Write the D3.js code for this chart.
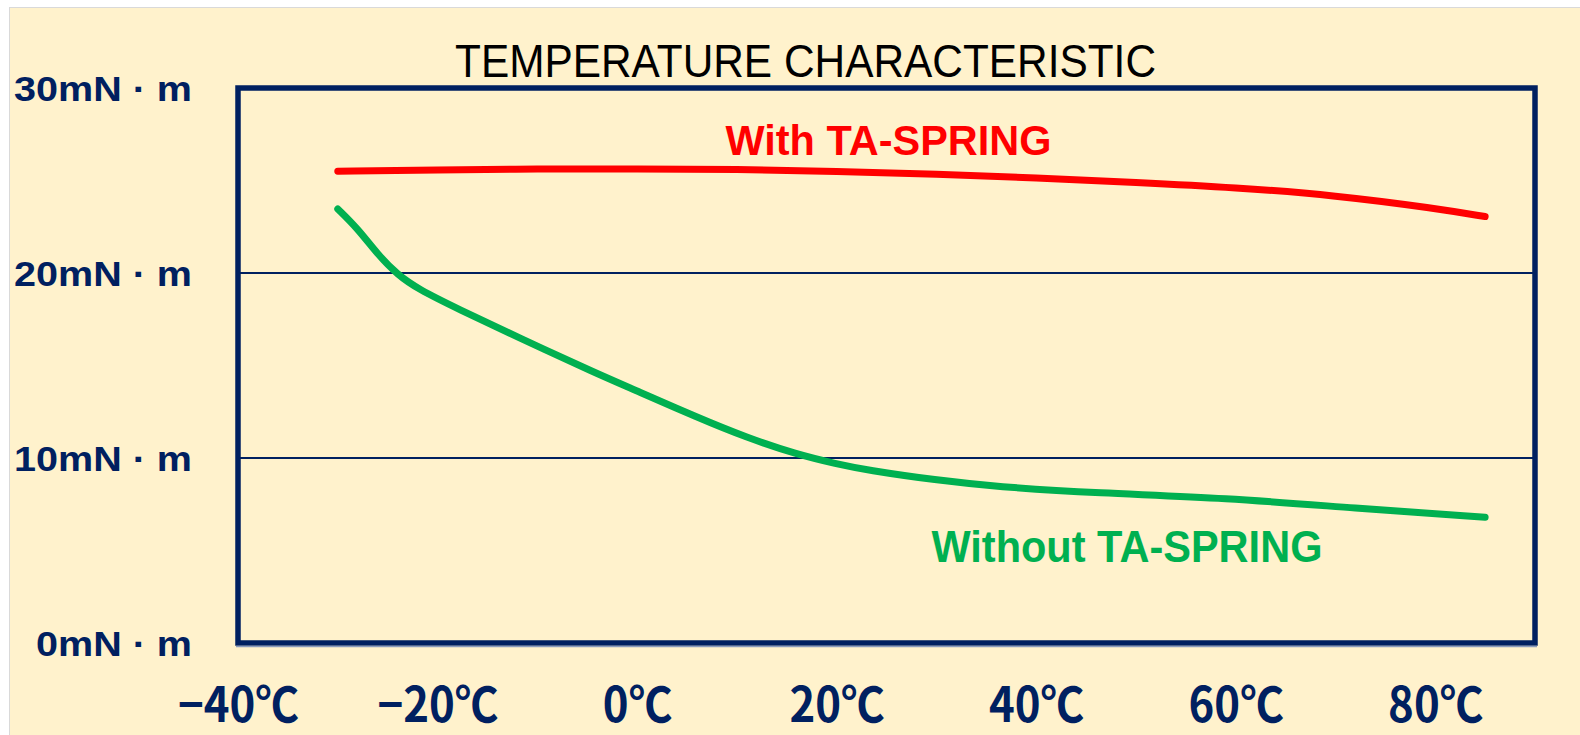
<!DOCTYPE html>
<html>
<head>
<meta charset="utf-8">
<script src="https://cdn.jsdelivr.net/npm/d3@7"></script>
<style>
  html, body { margin: 0; padding: 0; background: #fff; }
  svg { display: block; }
</style>
</head>
<body>
<svg id="chart" width="1580" height="735"></svg>
<script>
// temperature (°C) samples for each curve
const withTemps = [-30, -20, -10, 0, 10, 20, 30, 40, 50, 60, 70, 80, 85]
const withTorque = [25.5, 25.58, 25.62, 25.63, 25.6, 25.5, 25.35, 25.15, 24.9, 24.62, 24.2, 23.5, 23.05]

const withoutTemps = [-30, -28, -26, -24, -22, -18, -12, -4, 0, 6, 11, 16, 20, 23, 30, 36, 46, 59, 72, 85]
const withoutTorque = [23.46, 22.4, 21.0, 19.9, 19.15, 18.07, 16.55, 14.55, 13.63, 12.2, 11.1, 10.2, 9.68, 9.35, 8.8, 8.45, 8.1, 7.85, 7.28, 6.8]

const xTicks = [-40, -20, 0, 20, 40, 60, 80]
const yTicks = [0, 10, 20, 30]

const titleText = "TEMPERATURE CHARACTERISTIC"
const seriesNames = ["With TA-SPRING", "Without TA-SPRING"]

const svg = d3.select("#chart")
const W = +svg.attr("width"), H = +svg.attr("height")
const margin = { left: 238, top: 88, right: W - 1535, bottom: H - 643 }
const iw = W - margin.left - margin.right
const ih = H - margin.top - margin.bottom

const navy = "#002060"

// page background
svg.append("rect")
  .attr("x", 9.5).attr("y", 7.5)
  .attr("width", W).attr("height", H)
  .attr("fill", "#FFF2CC")
  .attr("stroke", "#d9d9d9")

const x = d3.scaleLinear().domain([-40, 90]).range([0, iw])
const y = d3.scaleLinear().domain([0, 30]).range([ih, 0])

const g = svg.append("g")
  .attr("transform", "translate(" + margin.left + "," + margin.top + ")")

// gridlines
g.selectAll("line.grid")
  .data(yTicks.filter(d => d > 0 && d < 30))
  .enter()
  .append("line")
  .attr("class", "grid")
  .attr("x1", 0).attr("x2", iw)
  .attr("y1", d => y(d)).attr("y2", d => y(d))
  .attr("stroke", navy)
  .attr("stroke-width", 2)

// y axis labels
const yAxis = g.append("g")
  .call(d3.axisLeft(y).tickValues(yTicks).tickSize(0).tickPadding(46)
    .tickFormat(d => d + "mN · m"))
yAxis.select(".domain").remove()
yAxis.selectAll("text")
  .attr("fill", navy)
  .attr("dy", "0.36em")
  .style("font-family", "'Liberation Sans', sans-serif")
  .style("font-weight", "bold")
  .style("font-size", "35px")
  .each(function () {
    this.setAttribute("textLength", this.getComputedTextLength() * 1.13)
    this.setAttribute("lengthAdjust", "spacingAndGlyphs")
  })

// x axis labels
const xAxis = g.append("g")
  .attr("transform", "translate(0," + ih + ")")
  .call(d3.axisBottom(x).tickValues(xTicks).tickSize(0).tickPadding(45)
    .tickFormat(d => (d < 0 ? "\u2212" : "") + Math.abs(d) + "℃"))
xAxis.select(".domain").remove()
xAxis.selectAll("text")
  .attr("fill", navy)
  .style("font-family", "'Liberation Sans Narrow', 'Noto Sans CJK JP', sans-serif")
  .style("font-weight", "bold")
  .style("font-size", "48px")
  .each(function () {
    this.setAttribute("textLength", this.getComputedTextLength() * 0.91)
    this.setAttribute("lengthAdjust", "spacingAndGlyphs")
  })

// lines
const line = d3.line()
  .x(d => x(d[0]))
  .y(d => y(d[1]))
  .curve(d3.curveBasis)

const series = [
  { name: seriesNames[0], color: "#FF0000", pts: d3.zip(withTemps, withTorque) },
  { name: seriesNames[1], color: "#00B050", pts: d3.zip(withoutTemps, withoutTorque) }
]

g.selectAll("path.curve")
  .data(series)
  .enter()
  .append("path")
  .attr("class", "curve")
  .attr("d", d => line(d.pts))
  .attr("fill", "none")
  .attr("stroke", d => d.color)
  .attr("stroke-width", 7)
  .attr("stroke-linecap", "round")
  .attr("stroke-linejoin", "round")

// frame
g.append("rect")
  .attr("width", iw).attr("height", ih)
  .attr("fill", "none")
  .attr("stroke", navy)
  .attr("stroke-width", 5.5)
g.append("line")
  .attr("x1", -2).attr("x2", iw + 2)
  .attr("y1", ih + 3.5).attr("y2", ih + 3.5)
  .attr("stroke", "#8a9bbd")
  .attr("stroke-width", 1.5)

// series labels (data coords: temp, torque, text width, font size)
const labelPos = [[25.2, 26.4, 326, 42], [49.1, 4.38, 391, 44]]
g.selectAll("text.lab")
  .data(series)
  .enter()
  .append("text")
  .attr("class", "lab")
  .attr("x", (d, i) => x(labelPos[i][0]))
  .attr("y", (d, i) => y(labelPos[i][1]))
  .attr("text-anchor", "middle")
  .attr("textLength", (d, i) => labelPos[i][2])
  .attr("lengthAdjust", "spacingAndGlyphs")
  .attr("fill", d => d.color)
  .style("font-family", "'Liberation Sans', sans-serif")
  .style("font-weight", "bold")
  .style("font-size", (d, i) => labelPos[i][3] + "px")
  .text(d => d.name)

// title
svg.append("text")
  .attr("x", 805.5)
  .attr("y", 77)
  .attr("text-anchor", "middle")
  .attr("textLength", 701)
  .attr("lengthAdjust", "spacingAndGlyphs")
  .attr("fill", "#000")
  .style("font-family", "'Liberation Sans', sans-serif")
  .style("font-size", "47px")
  .text(titleText)
</script>
</body>
</html>
